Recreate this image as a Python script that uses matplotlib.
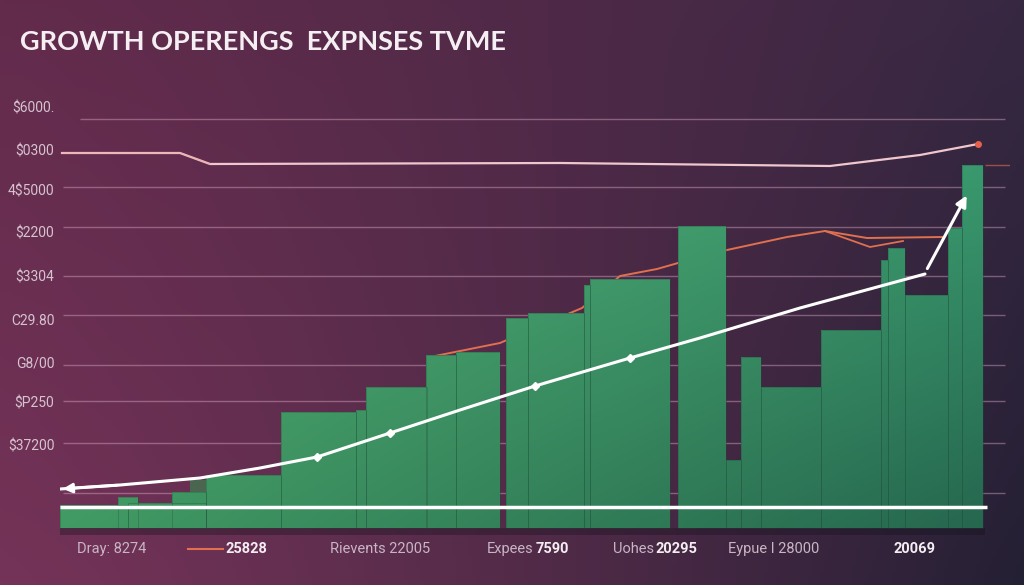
import numpy as np
import matplotlib.pyplot as plt
from matplotlib.colors import to_rgb

plt.rcParams['font.family'] = ['Roboto', 'DejaVu Sans']

title = 'GROWTH OPERENGS  EXPNSES TVME'

# y axis labels (garbled, as in the picture) and where they sit
y_labels = ['$6000.', '$0300', '4$5000', '$2200', '$3304', 'C29.80', 'G8/00', '$P250', '$37200']
y_label_vals = [42.1, 37.8, 33.8, 29.6, 25.2, 20.8, 16.6, 12.6, 8.3]
grid_vals = [40.9, 34.1, 30.1, 25.2, 21.3, 16.3, 12.7, 8.5, 3.5]

# green expense columns: left edge, width, height
bar_left = [0, 5.8, 6.8, 11.2, 14.6, 22.1, 29.6, 30.6, 36.6, 39.6, 44.6, 46.8,
            52.4, 53.0, 61.8, 66.6, 68.1, 70.1, 76.1, 82.1, 82.8, 84.5, 88.8, 90.2]
bar_width = [6.8, 2.0, 7.8, 3.4, 7.5, 7.5, 1.0, 6.1, 3.0, 4.4, 2.2, 5.6,
             0.6, 8.0, 4.8, 1.5, 2.0, 6.0, 6.0, 0.7, 1.7, 4.3, 1.4, 2.1]
bar_height = [2.3, 3.1, 2.5, 3.6, 5.3, 11.6, 11.8, 14.1, 17.3, 17.6, 21.0, 21.5,
              24.3, 24.9, 30.2, 6.8, 17.1, 14.1, 19.8, 26.8, 28.0, 23.3, 30.0, 36.3]
dark_block = (13.0, 1.6, 4.8)

# orange revenue lines
rev_x = [37.0, 44.0, 47.0, 52.2, 56.0, 59.7, 61.8, 66.7, 72.7, 76.5, 80.7, 88.3]
rev_y = [17.1, 18.5, 19.8, 22.0, 25.2, 25.9, 26.5, 27.8, 29.1, 29.7, 29.0, 29.1]
rev2_x = [76.5, 81.0, 84.3]
rev2_y = [29.7, 28.1, 28.7]

# top line
top_x = [0.2, 12.0, 15.0, 50.0, 77.0, 86.0, 91.8]
top_y = [37.5, 37.5, 36.4, 36.5, 36.2, 37.3, 38.4]

# white trend curve
trend_x = [0, 6, 14, 20, 25.7, 33, 40, 47.5, 57, 64, 74, 86.5]
trend_y = [3.9, 4.3, 5.0, 6.0, 7.1, 9.5, 11.8, 14.2, 17.0, 19.0, 22.0, 25.4]
trend_marks = [4, 5, 7, 8]

baseline = 2.1

# bottom labels: (text, left px, bold)
bottom_items = [('Dray: 8274', 77, False), ('25828', 226, True),
                ('Rievents 22005', 330, False), ('Expees', 487, False),
                ('7590', 536, True), ('Uohes', 613, False), ('20295', 656, True),
                ('Eypue I 28000', 728, False), ('20069', 893, True)]

W, H = 1024, 585
fig = plt.figure(figsize=(W / 100, H / 100), dpi=100)

# background gradient
bg = fig.add_axes([0, 0, 1, 1])
tl, tr = np.array(to_rgb('#622b4c')), np.array(to_rgb('#372842'))
bl, br = np.array(to_rgb('#743358')), np.array(to_rgb('#242034'))
u = np.linspace(0, 1, 256)[None, :, None] ** 1.3
v = np.linspace(0, 1, 146)[:, None, None]
top = tl * (1 - u) + tr * u
bot = bl * (1 - u) + br * u
img = top * (1 - v) + bot * v
bg.imshow(img, aspect='auto', extent=[0, 1, 0, 1])
bg.set_axis_off()

ax = fig.add_axes([60 / W, (H - 535) / H, (1010 - 60) / W, (535 - 100) / H])
ax.patch.set_visible(False)
for s in ax.spines.values():
    s.set_visible(False)
XMAX, YMIN, YMAX = 95, -0.7, 42.8

# gridlines
ax.hlines(grid_vals[1:], 0.3, 94.5, color='#d7a6c2', alpha=0.45, lw=1, zorder=1)
ax.hlines(grid_vals[0], 2.0, 94.5, color='#d7a6c2', alpha=0.45, lw=1, zorder=1)
ax.hlines(36.3, 92.5, 95.3, color='#e0704f', alpha=0.6, lw=1, zorder=1)

# shadow under the columns
ax.fill_between([0, 92.5], YMIN, 0, color='#150f1c', alpha=0.35, lw=0, zorder=1)

lt, lb = np.array(to_rgb('#58b273')), np.array(to_rgb('#419a63'))
rt, rb = np.array(to_rgb('#38976d')), np.array(to_rgb('#25664f'))


def green(x, y):
    fx = np.clip(x / XMAX, 0, 1)[None, :, None]
    fy = np.clip(y / 36.0, 0, 1)[:, None, None]
    t = lt * (1 - fx) + rt * fx
    b = lb * (1 - fx) + rb * fx
    return t * fy + b * (1 - fy)


for x0, w, h in zip(bar_left, bar_width, bar_height):
    rect = ax.bar(x0, h, w, align='edge', facecolor='none',
                  edgecolor=(0.12, 0.3, 0.22, 0.35), lw=0.6, zorder=2.5)[0]
    xs = np.linspace(x0, x0 + w, 8)
    ys = np.linspace(h, 0, 30)
    im = ax.imshow(green(xs, ys), extent=[x0, x0 + w, 0, h], aspect='auto',
                   zorder=2, interpolation='bilinear')
    im.set_clip_path(rect)
ax.bar(dark_block[0], dark_block[2], dark_block[1], align='edge',
       color='#4a6650', zorder=1.9)

# orange and top lines
ax.plot(rev_x, rev_y, color='#e0704f', lw=1.4, zorder=1.5)
ax.plot(rev2_x, rev2_y, color='#e0704f', lw=1.3, zorder=1.5)
ax.plot(top_x, top_y, color='#f0c6cf', lw=1.6, zorder=3)
ax.plot(top_x[:3], top_y[:3], color='#e8a08c', lw=1.0, alpha=0.5, zorder=3)
ax.plot(top_x[-1], top_y[-1], 'o', color='#e8604c', ms=4, zorder=3.2)

# baseline and trend
ax.hlines(baseline, 0, 92.7, color='white', lw=2.5, zorder=4)
ax.plot(trend_x, trend_y, color='white', lw=2.2, zorder=4, solid_capstyle='round')
ax.plot([trend_x[i] for i in trend_marks], [trend_y[i] for i in trend_marks],
        'D', color='white', ms=4.5, zorder=4)
ax.annotate('', xy=(trend_x[0], trend_y[0]), xytext=(trend_x[1], trend_y[1]),
            arrowprops=dict(arrowstyle='-|>', color='white', lw=2,
                            mutation_scale=14), zorder=4)
ax.annotate('', xy=(90.8, 33.5), xytext=(86.6, 25.7),
            arrowprops=dict(arrowstyle='-|>', color='white', lw=2.2,
                            mutation_scale=16), zorder=4)

ax.set_xlim(0, XMAX)
ax.set_ylim(YMIN, YMAX)
ax.set_xticks([])
ax.set_yticks(y_label_vals, y_labels)
ax.tick_params(axis='y', length=0, pad=4, labelcolor='#d6c3cf', labelsize=10)

fig.text(20 / W, 1 - 42 / H, title, ha='left', va='center', fontsize=19.5,
         fontweight='bold', family=['Lato', 'DejaVu Sans'], color='#f5eff3')

ly = 1 - 549 / H
fig.add_artist(plt.Line2D([188 / W, 223 / W], [ly, ly], color='#e0704f', lw=1.5))
for txt, px, bold in bottom_items:
    fig.text(px / W, ly, txt, ha='left', va='center', fontsize=10.5,
             fontweight='bold' if bold else 'normal',
             color='#f4eef2' if bold else '#c8b5c5')

fig.savefig('out.png', dpi=100)
